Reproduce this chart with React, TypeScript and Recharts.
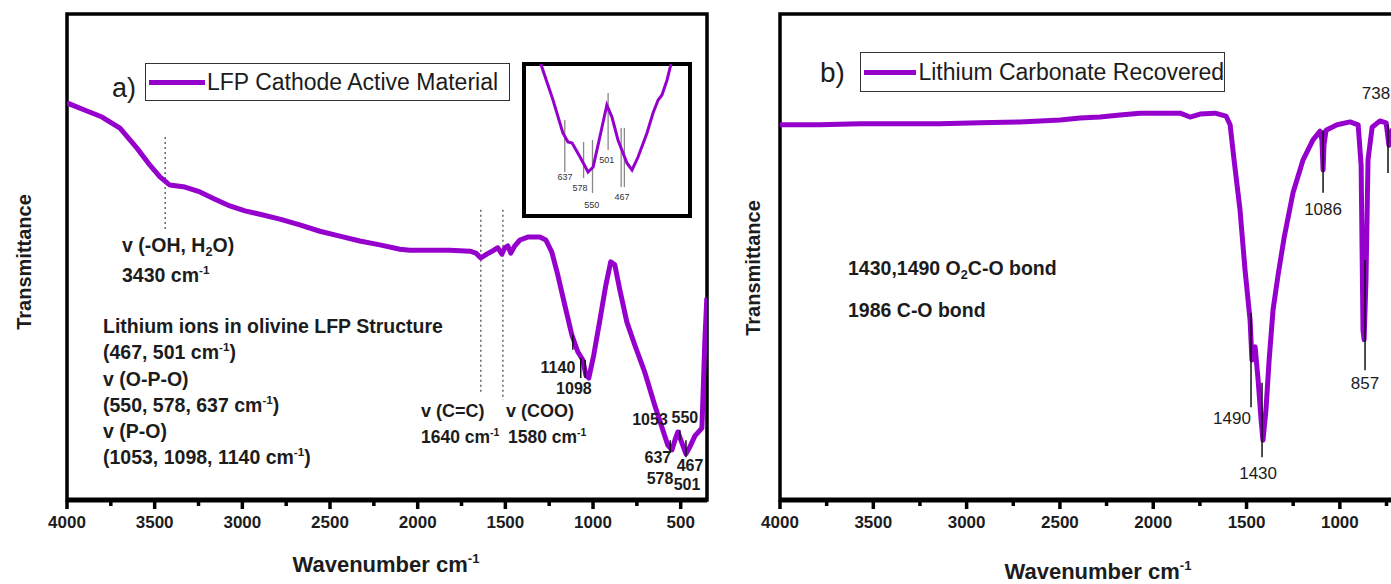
import React from 'react';
import { LineChart, Line, XAxis, YAxis, ReferenceArea, ReferenceLine, ReferenceDot } from 'recharts';

const FONT = '"Liberation Sans", Arial, Helvetica, sans-serif';
const PURPLE = '#9600cd';
const INK = '#1c1c1c';

// panel a) LFP cathode active material
const LFP_WN = [
  4000, 3897, 3800, 3698, 3601, 3527, 3470, 3413, 3327, 3242, 3156, 3071, 2985, 2900, 2786,
  2672, 2558, 2444, 2330, 2216, 2101, 2045, 1931, 1816, 1702, 1668, 1640, 1606, 1566, 1543,
  1520, 1503, 1486, 1469, 1446, 1417, 1372, 1303, 1269, 1235, 1201, 1161, 1121, 1087, 1058,
  1041, 1024, 996, 961, 927, 899, 876, 847, 807, 762, 705, 648, 602, 574, 550,
  533, 516, 499, 470, 448, 419, 379, 362, 351,
];
const LFP_T = [
  81.7, 80.2, 78.8, 76.5, 72.4, 68.9, 66.5, 64.8, 64.4, 63.4, 61.9, 60.5, 59.5, 58.8, 57.8,
  56.6, 55.3, 54.3, 53.3, 52.5, 51.6, 51.4, 51.4, 51.4, 51.2, 50.8, 49.8, 50.6, 51.4, 51.9,
  50.6, 51.9, 52.3, 50.8, 52.3, 53.5, 54.1, 54.1, 53.5, 51.0, 46.3, 40.1, 34.0, 30.5, 28.8,
  25.7, 25.1, 29.8, 37.0, 44.2, 49.0, 48.4, 43.2, 36.6, 31.9, 26.3, 19.5, 14.4, 11.3, 10.3,
  12.3, 14.0, 12.3, 9.5, 10.9, 13.2, 14.8, 32.9, 41.6,
];

// inset of panel a) (600 - 400 cm-1 region)
const INSET_WN = [718, 709, 674, 643, 627, 614, 589, 564, 548, 527, 505, 489, 470, 442, 426, 407, 379, 360, 344, 332, 316, 306, 300];
const INSET_T = [104, 98.0, 76.3, 54.6, 48.7, 48.0, 38.8, 28.9, 32.2, 52.0, 73.0, 65.1, 50.0, 34.9, 30.3, 38.8, 54.6, 67.8, 76.3, 79.6, 89.5, 98.0, 104];

// panel b) lithium carbonate recovered
const LI_WN = [
  4000, 3786, 3571, 3357, 3143, 2928, 2714, 2499, 2392, 2285, 2178, 2071, 1964, 1856, 1803,
  1749, 1669, 1610, 1588, 1567, 1535, 1508, 1481, 1471, 1454, 1438, 1422, 1412, 1396, 1379,
  1358, 1331, 1299, 1251, 1197, 1144, 1106, 1096, 1090, 1085, 1074, 1015, 945, 902, 886,
  876, 870, 860, 849, 827, 785, 752, 737, 720, 688, 650, 600,
];
const LI_T = [
  77.2, 77.2, 77.4, 77.4, 77.4, 77.6, 77.8, 78.2, 78.6, 78.8, 79.2, 79.6, 79.6, 79.6, 78.8,
  79.4, 79.6, 79.0, 77.2, 70.0, 59.7, 47.3, 37.0, 28.8, 31.5, 24.7, 16.5, 12.3, 18.5, 28.8,
  39.1, 46.3, 53.9, 63.2, 70.0, 74.1, 75.9, 74.1, 67.9, 73.0, 76.1, 77.2, 77.8, 77.2, 68.9,
  35.0, 33.0, 45.3, 70.0, 76.7, 78.0, 77.6, 73.0, 76.1, 77.4, 77.0, 77.0,
];

// axis ticks (majors get labels)
const LFP_TICKS = [4000, 3750, 3500, 3250, 3000, 2750, 2500, 2250, 2000, 1750, 1500, 1250, 1000, 750, 500];
const LI_TICKS = [4000, 3750, 3500, 3250, 3000, 2750, 2500, 2250, 2000, 1750, 1500, 1250, 1000, 750];

// annotations
const LFP_GUIDES = [
  { wn: 3440, from: 74.7, to: 55.6 },
  { wn: 1640, from: 59.7, to: 22.0 },
  { wn: 1514, from: 59.7, to: 20.6 },
];
const LFP_MARKERS = [
  { wn: 1115, from: 34.0, to: 30.9 },
  { wn: 1070, from: 29.2, to: 25.1 },
  { wn: 1045, from: 28.8, to: 25.1 },
  { wn: 560, from: 12.3, to: 9.7 },
  { wn: 505, from: 14.4, to: 12.3 },
  { wn: 470, from: 12.3, to: 8.8 },
];
const LFP_PEAK_LABELS = [
  { text: '1140', wn: 1200, t: 27.4 },
  { text: '1098', wn: 1109, t: 23.0 },
  { text: '1053', wn: 675, t: 16.5 },
  { text: '550', wn: 476, t: 17.1 },
  { text: '637', wn: 630, t: 8.8 },
  { text: '578', wn: 618, t: 4.5 },
  { text: '467', wn: 447, t: 7.2 },
  { text: '501', wn: 464, t: 3.3 },
];
const INSET_MARKERS = [
  { wn: 637, from: 63.2, to: 28.9 },
  { wn: 578, from: 48.7, to: 25.0 },
  { wn: 550, from: 50.0, to: 15.1 },
  { wn: 501, from: 80.9, to: 43.4 },
  { wn: 460, from: 57.9, to: 19.1 },
  { wn: 450, from: 57.9, to: 19.1 },
];
const INSET_LABELS = [
  { text: '637', wn: 636, t: 25.7 },
  { text: '578', wn: 589, t: 18.4 },
  { text: '550', wn: 552, t: 7.2 },
  { text: '501', wn: 505, t: 36.8 },
  { text: '467', wn: 457, t: 12.5 },
];
const LI_MARKERS = [
  { wn: 1476, from: 38.5, to: 19.1 },
  { wn: 1417, from: 24.1, to: 8.8 },
  { wn: 1090, from: 76.1, to: 63.2 },
  { wn: 865, from: 49.4, to: 26.7 },
  { wn: 742, from: 77.2, to: 67.3 },
];
const LI_PEAK_LABELS = [
  { text: '738', wn: 806, t: 83.7 },
  { text: '1086', wn: 1090, t: 59.9 },
  { text: '857', wn: 865, t: 24.1 },
  { text: '1490', wn: 1578, t: 16.9 },
  { text: '1430', wn: 1438, t: 5.6 },
];

const lfpData = LFP_WN.map((wn, i) => ({ wn, t: LFP_T[i] }));
const insetData = INSET_WN.map((wn, i) => ({ wn, t: INSET_T[i] }));
const liData = LI_WN.map((wn, i) => ({ wn, t: LI_T[i] }));

function WnTick(props: any) {
  const { x, y, payload } = props;
  const v = payload.value;
  const major = v % 500 === 0;
  return (
    <g>
      <line x1={x} x2={x} y1={y} y2={y + (major ? 9 : 6)} stroke="#000" strokeWidth={3.5} />
      {major && (
        <text x={x} y={y + 28} textAnchor="middle" fontFamily={FONT} fontWeight="bold" fontSize={17} fill={INK}>
          {v}
        </text>
      )}
    </g>
  );
}

const Sup = ({ children }: any) => (
  <sup style={{ fontSize: '0.6em', verticalAlign: '0.65em', lineHeight: 0 }}>{children}</sup>
);
const Sub = ({ children }: any) => (
  <sub style={{ fontSize: '0.65em', verticalAlign: '-0.3em', lineHeight: 0 }}>{children}</sub>
);

function Note({ x, y, size = 19.5, bold = true, children }: any) {
  return (
    <div
      style={{
        position: 'absolute',
        left: x,
        top: y - size * 0.47,
        fontSize: size,
        lineHeight: 1,
        fontWeight: bold ? 700 : 400,
        color: INK,
        whiteSpace: 'nowrap',
      }}
    >
      {children}
    </div>
  );
}

function VTitle({ x, y }: any) {
  return (
    <div
      style={{
        position: 'absolute',
        left: x,
        top: y,
        transform: 'translate(-50%, -50%) rotate(-90deg)',
        fontSize: 20,
        fontWeight: 700,
        color: INK,
        whiteSpace: 'nowrap',
      }}
    >
      Transmittance
    </div>
  );
}

function XTitle({ x, y }: any) {
  return (
    <div
      style={{
        position: 'absolute',
        left: x,
        top: y,
        transform: 'translate(-50%, -50%)',
        fontSize: 22,
        fontWeight: 700,
        color: INK,
        whiteSpace: 'nowrap',
      }}
    >
      Wavenumber cm<Sup>-1</Sup>
    </div>
  );
}

function LegendBox({ x, y, w, h, label }: any) {
  return (
    <div
      style={{
        position: 'absolute',
        left: x,
        top: y,
        width: w,
        height: h,
        boxSizing: 'border-box',
        border: '1.5px solid #333',
        background: '#fff',
        display: 'flex',
        alignItems: 'center',
      }}
    >
      <div style={{ width: 56, height: 5, background: PURPLE, marginLeft: 3 }} />
      <span style={{ fontSize: 23, color: INK, marginLeft: 2, whiteSpace: 'nowrap' }}>{label}</span>
    </div>
  );
}

const segment = (wn: number, from: number, to: number) => [
  { x: wn, y: from },
  { x: wn, y: to },
];

export default function App() {
  return (
    <div
      style={{
        position: 'absolute',
        left: 0,
        top: 0,
        width: 1391,
        height: 584,
        overflow: 'hidden',
        background: '#fff',
        fontFamily: FONT,
      }}
    >
      {/* panel a */}
      <div style={{ position: 'absolute', left: 0, top: 0 }}>
        <LineChart width={720} height={584} data={lfpData} margin={{ top: 14, right: 13, left: 67, bottom: 44 }}>
          <XAxis
            dataKey="wn"
            type="number"
            domain={[350, 4000]}
            reversed
            allowDataOverflow
            ticks={LFP_TICKS}
            interval={0}
            height={40}
            tickSize={0}
            tickMargin={0}
            tickLine={false}
            axisLine={{ stroke: '#000', strokeWidth: 5 }}
            tick={<WnTick />}
          />
          <YAxis hide type="number" domain={[0, 100]} allowDataOverflow />
          <ReferenceArea x1={350} x2={4000} y1={0} y2={100} fill="none" stroke="#000" strokeWidth={3.5} ifOverflow="visible" />
          {LFP_GUIDES.map((g) => (
            <ReferenceLine
              key={g.wn}
              segment={segment(g.wn, g.from, g.to)}
              stroke="#666"
              strokeWidth={1.5}
              strokeDasharray="2 3"
              ifOverflow="visible"
            />
          ))}
          <Line
            type="linear"
            dataKey="t"
            stroke={PURPLE}
            strokeWidth={5}
            strokeLinejoin="round"
            dot={false}
            isAnimationActive={false}
          />
          {LFP_MARKERS.map((m) => (
            <ReferenceLine key={m.wn} segment={segment(m.wn, m.from, m.to)} stroke="#111" strokeWidth={1.5} ifOverflow="visible" />
          ))}
          {LFP_PEAK_LABELS.map((p) => (
            <ReferenceDot
              key={p.text}
              x={p.wn}
              y={p.t}
              r={0}
              fill="none"
              stroke="none"
              ifOverflow="visible"
              label={{ value: p.text, position: 'center', fill: INK, fontSize: 16, fontWeight: 'bold', fontFamily: FONT }}
            />
          ))}
        </LineChart>
      </div>

      {/* inset of panel a */}
      <div style={{ position: 'absolute', left: 522, top: 62, background: '#fff' }}>
        <LineChart width={170} height={156} data={insetData} margin={{ top: 2, right: 2, left: 2, bottom: 2 }}>
          <XAxis hide dataKey="wn" type="number" domain={[244, 765]} reversed allowDataOverflow />
          <YAxis hide type="number" domain={[0, 100]} allowDataOverflow />
          {INSET_MARKERS.map((m) => (
            <ReferenceLine key={m.wn} segment={segment(m.wn, m.from, m.to)} stroke="#888" strokeWidth={1.3} ifOverflow="visible" />
          ))}
          <Line type="linear" dataKey="t" stroke={PURPLE} strokeWidth={3} dot={false} isAnimationActive={false} />
          {INSET_LABELS.map((p) => (
            <ReferenceDot
              key={p.text}
              x={p.wn}
              y={p.t}
              r={0}
              fill="none"
              stroke="none"
              ifOverflow="visible"
              label={{ value: p.text, position: 'center', fill: '#333', fontSize: 9, fontFamily: FONT }}
            />
          ))}
          <ReferenceArea x1={244} x2={765} y1={0} y2={100} fill="none" stroke="#000" strokeWidth={4} ifOverflow="visible" />
        </LineChart>
      </div>

      {/* panel b */}
      <div style={{ position: 'absolute', left: 700, top: 0 }}>
        <LineChart width={760} height={584} data={liData} margin={{ top: 14, right: 45.5, left: 80, bottom: 44 }}>
          <XAxis
            dataKey="wn"
            type="number"
            domain={[600, 4000]}
            reversed
            allowDataOverflow
            ticks={LI_TICKS}
            interval={0}
            height={40}
            tickSize={0}
            tickMargin={0}
            tickLine={false}
            axisLine={{ stroke: '#000', strokeWidth: 5 }}
            tick={<WnTick />}
          />
          <YAxis hide type="number" domain={[0, 100]} allowDataOverflow />
          <ReferenceArea x1={600} x2={4000} y1={0} y2={100} fill="none" stroke="#000" strokeWidth={3.5} ifOverflow="visible" />
          <Line
            type="linear"
            dataKey="t"
            stroke={PURPLE}
            strokeWidth={5}
            strokeLinejoin="round"
            dot={false}
            isAnimationActive={false}
          />
          {LI_MARKERS.map((m) => (
            <ReferenceLine key={m.wn} segment={segment(m.wn, m.from, m.to)} stroke="#111" strokeWidth={1.5} ifOverflow="visible" />
          ))}
          {LI_PEAK_LABELS.map((p) => (
            <ReferenceDot
              key={p.text}
              x={p.wn}
              y={p.t}
              r={0}
              fill="none"
              stroke="none"
              ifOverflow="visible"
              label={{ value: p.text, position: 'center', fill: INK, fontSize: 17, fontFamily: FONT }}
            />
          ))}
        </LineChart>
      </div>

      {/* legends */}
      <Note x={112} y={88} size={27} bold={false}>a)</Note>
      <LegendBox x={145} y={63} w={365} h={38} label="LFP Cathode Active Material" />
      <Note x={820} y={72} size={28} bold={false}>b)</Note>
      <LegendBox x={860} y={52} w={365} h={40} label="Lithium Carbonate Recovered" />

      {/* panel a notes */}
      <Note x={122} y={245}>v (-OH, H<Sub>2</Sub>O)</Note>
      <Note x={122} y={275}>3430 cm<Sup>-1</Sup></Note>
      <Note x={103} y={326}>Lithium ions in olivine LFP Structure</Note>
      <Note x={103} y={352}>(467, 501 cm<Sup>-1</Sup>)</Note>
      <Note x={103} y={379}>v (O-P-O)</Note>
      <Note x={103} y={405}>(550, 578, 637 cm<Sup>-1</Sup>)</Note>
      <Note x={103} y={431}>v (P-O)</Note>
      <Note x={103} y={457}>(1053, 1098, 1140 cm<Sup>-1</Sup>)</Note>
      <Note x={421} y={410} size={18}>v (C=C)</Note>
      <Note x={506} y={410} size={18}>v (COO)</Note>
      <Note x={421} y={437} size={17.5}>1640 cm<Sup>-1</Sup></Note>
      <Note x={508} y={437} size={17.5}>1580 cm<Sup>-1</Sup></Note>

      {/* panel b notes */}
      <Note x={848} y={268}>1430,1490 O<Sub>2</Sub>C-O bond</Note>
      <Note x={848} y={310}>1986 C-O bond</Note>

      {/* axis titles */}
      <VTitle x={24} y={262} />
      <XTitle x={386} y={565} />
      <VTitle x={753} y={268} />
      <XTitle x={1098} y={572} />
    </div>
  );
}
